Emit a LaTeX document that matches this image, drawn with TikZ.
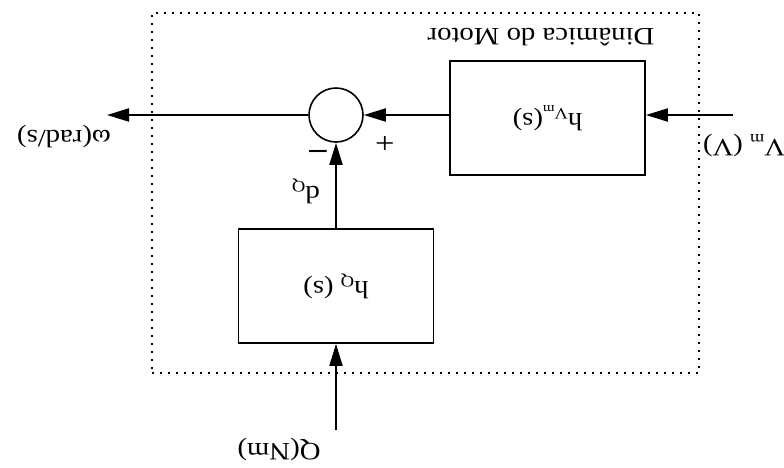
\documentclass[tikz,border=0pt]{standalone}
\usepackage{fontspec}
\setmainfont[FakeStretch=1.15]{Liberation Serif}
\usepackage{graphicx}
\usetikzlibrary{arrows.meta}

% subscript lowered under the letter before it
\newcommand{\lo}[2][16]{\raisebox{-0.45ex}{\fontsize{#1}{#1}\selectfont #2}}

\begin{document}
\begin{tikzpicture}[
    x=1pt, y=-1pt,
    every node/.style={font=\fontsize{25}{28}\selectfont},
    block/.style={draw, line width=1.8pt, minimum width=195pt, minimum height=114pt, inner sep=0pt},
    sumnode/.style={draw, circle, line width=1.6pt, minimum size=54pt, inner sep=0pt},
    lbl/.style={rotate=180, inner sep=0pt},
    sign/.style={rotate=180, inner sep=0pt, font=\fontsize{30}{30}\selectfont},
    frame/.style={draw, line width=1.6pt, dash pattern=on 1.6pt off 6.4pt, minimum width=547pt, minimum height=360pt, inner sep=0pt},
    flow/.style={-{Triangle[length=22pt, width=13pt]}, line width=2pt}
]
\useasboundingbox (0,0) rectangle (784,467);
\node[frame] (motor) at (425.5,193) {};
\node[block] (hvm) at (547.5,118) {\rotatebox{180}{h\lo{V\lo[13]{m}}(s)}};
\node[block] (hq) at (336,286) {\rotatebox{180}{h\lo{Q}~(s)}};
\node[sumnode] (sum) at (336,115) {};
\coordinate (vin) at (733,115);
\coordinate (wout) at (107,115);
\coordinate (qin) at (336,430);
\node[lbl] (vlabel) at (744,146) {V\lo{m}~(V)};
\node[lbl] (wlabel) at (64,137) {ω(rad/s)};
\node[lbl] (qlabel) at (279,450) {Q(Nm)};
\node[lbl] (dq) at (306,191) {d\lo{Q}};
\node[lbl] (dinamica) at (541,37) {Dinâmica do Motor};
\node[sign] (plus) at (385,142) {+};
\node[sign] (minus) at (318,149) {\textbf{\textendash}};
\draw[flow] (vin) -- (hvm.east |- vin);
\draw[flow] (hvm.west |- sum) -- (sum.east);
\draw[flow] (sum.west) -- (wout);
\draw[flow] (qin) -- (hq.south);
\draw[flow] (hq.north) -- (sum.south);
\end{tikzpicture}
\end{document}
